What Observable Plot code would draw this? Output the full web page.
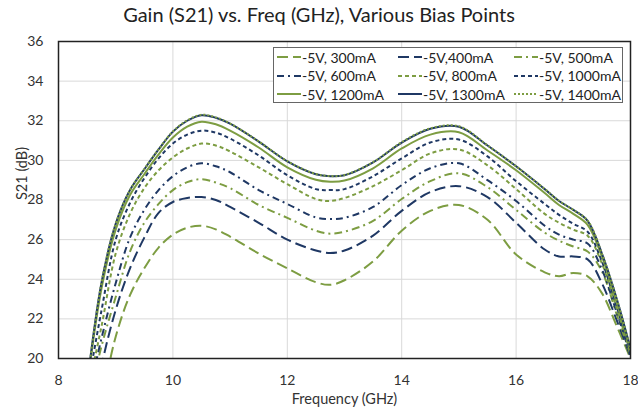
<!DOCTYPE html>
<html><head><meta charset="utf-8">
<script src="https://cdn.jsdelivr.net/npm/d3@7"></script>
<script src="https://cdn.jsdelivr.net/npm/@observablehq/plot@0.6"></script>
<style>
body{margin:0;background:#fff;font-family:Lato,"Open Sans",sans-serif;}
#wrap{position:relative;width:638px;height:415px;overflow:hidden;background:#fff;}
#title{height:28px;line-height:28px;text-align:center;font-size:20px;color:#222;}
#legend{position:absolute;left:273px;top:47px;width:350px;height:56px;border:1px solid #666;background:#fff;box-sizing:border-box;}
.item{position:absolute;display:flex;align-items:center;font-size:14px;color:#222;height:18px;white-space:nowrap;}
.item svg{margin-right:1px;}
</style></head>
<body><div id="wrap"><div id="title">Gain (S21) vs. Freq (GHz), Various Bias Points</div><div id="chart"></div><div id="legend"></div></div>
<script>
const freq = [8.5, 8.75, 9, 9.25, 9.5, 9.75, 10, 10.25, 10.5, 10.75, 11, 11.5, 12, 12.5, 12.75, 13, 13.5, 14, 14.5, 15, 15.5, 16, 16.5, 16.75, 17, 17.25, 17.5, 17.75, 18];
const s300 = [14.5, 17.8, 21.1, 23.2, 24.55, 25.6, 26.25, 26.6, 26.7, 26.52, 26.15, 25.3, 24.55, 23.85, 23.72, 23.95, 24.9, 26.45, 27.45, 27.75, 27.0, 25.25, 24.35, 24.15, 24.32, 24.15, 23.3, 21.7, 20.0];
const s400 = [15.5, 19.6, 22.45, 24.55, 26.1, 27.35, 27.9, 28.1, 28.15, 28.0, 27.65, 26.85, 26.0, 25.45, 25.33, 25.45, 26.2, 27.45, 28.4, 28.7, 28.15, 26.85, 25.5, 25.15, 25.15, 25.0, 23.8, 22.0, 20.1];
const s500 = [17.5, 20.6, 23.1, 25.4, 26.85, 27.8, 28.5, 28.9, 29.05, 28.88, 28.6, 27.75, 27.1, 26.45, 26.3, 26.4, 26.95, 28.05, 28.95, 29.35, 28.65, 27.5, 26.35, 25.95, 25.65, 25.4, 24.4, 22.3, 20.2];
const s600 = [17.8, 21.0, 23.8, 26.1, 27.5, 28.5, 29.2, 29.65, 29.85, 29.7, 29.4, 28.5, 27.8, 27.12, 27.04, 27.1, 27.65, 28.75, 29.6, 29.85, 29.0, 27.95, 26.7, 26.25, 26.0, 25.8, 24.5, 22.4, 20.2];
const s800 = [18.2, 21.6, 25.3, 27.3, 28.6, 29.5, 30.15, 30.6, 30.85, 30.75, 30.45, 29.65, 28.8, 28.05, 27.95, 28.1, 28.7, 29.5, 30.35, 30.55, 29.75, 28.55, 27.3, 26.85, 26.5, 26.2, 24.8, 22.6, 20.3];
const s1000 = [18.4, 22.4, 26.0, 27.85, 29.1, 30.1, 30.85, 31.3, 31.5, 31.4, 31.1, 30.25, 29.25, 28.55, 28.5, 28.55, 29.2, 30.1, 30.9, 31.05, 30.2, 28.95, 27.8, 27.25, 26.8, 26.4, 24.9, 22.7, 20.3];
const s1200 = [18.6, 23.5, 26.5, 28.25, 29.3, 30.3, 31.15, 31.7, 31.95, 31.82, 31.5, 30.65, 29.65, 29.02, 28.92, 28.98, 29.6, 30.6, 31.3, 31.42, 30.5, 29.5, 28.35, 27.75, 27.3, 26.75, 25.15, 22.9, 20.4];
const s1300 = [18.7, 23.8, 26.8, 28.5, 29.55, 30.55, 31.45, 32.0, 32.28, 32.15, 31.85, 30.95, 29.95, 29.3, 29.2, 29.25, 29.9, 30.9, 31.6, 31.7, 30.75, 29.7, 28.55, 27.95, 27.5, 26.95, 25.3, 23.1, 20.5];
const s1400 = [18.7, 23.8, 26.8, 28.5, 29.56, 30.56, 31.46, 32.02, 32.3, 32.17, 31.86, 30.96, 29.96, 29.31, 29.21, 29.26, 29.91, 30.92, 31.62, 31.72, 30.76, 29.7, 28.56, 27.96, 27.5, 26.96, 25.3, 23.1, 20.5];
const seriesLabels = ["-5V, 300mA", "-5V,400mA", "-5V, 500mA", "-5V, 600mA", "-5V, 800mA", "-5V, 1000mA", "-5V, 1200mA", "-5V, 1300mA", "-5V, 1400mA"];
const xTicks = [8, 10, 12, 14, 16, 18];
const yTicks = [20, 22, 24, 26, 28, 30, 32, 34, 36];

const GREEN = "#7d9d42", NAVY = "#1f3864";
const seriesValues = [s300, s400, s500, s600, s800, s1000, s1200, s1300, s1400];
const styles = [
  {stroke: GREEN, dash: "11,5"},
  {stroke: NAVY, dash: "11,5"},
  {stroke: GREEN, dash: "8,4,2,4"},
  {stroke: NAVY, dash: "7,4,2,4"},
  {stroke: GREEN, dash: "4,3"},
  {stroke: NAVY, dash: "4,3"},
  {stroke: GREEN, dash: null},
  {stroke: NAVY, dash: null},
  {stroke: GREEN, dash: "2,2"}
];

const lineMarks = seriesValues.map((vals, k) => {
  const data = freq.map((f, i) => ({f, v: vals[i]}));
  const o = {x: "f", y: "v", stroke: styles[k].stroke, strokeWidth: 2, curve: "catmull-rom", clip: true, strokeLinecap: "butt"};
  if (styles[k].dash) o.strokeDasharray = styles[k].dash;
  return Plot.line(data, o);
});

const chart = Plot.plot({
  width: 638,
  height: 387,
  marginTop: 13,
  marginBottom: 57,
  marginLeft: 58,
  marginRight: 8,
  style: {fontFamily: "Lato, 'Open Sans', sans-serif", fontSize: "14px", color: "#333", background: "#fff"},
  x: {domain: [8, 18]},
  y: {domain: [20, 36]},
  marks: [
    Plot.gridX(xTicks, {stroke: "#d9d9d9", strokeOpacity: 1, strokeWidth: 1}),
    Plot.gridY(yTicks, {stroke: "#d9d9d9", strokeOpacity: 1, strokeWidth: 1}),
    Plot.axisX(xTicks, {tickSize: 0, tickPadding: 17, label: null, tickFormat: d => String(d)}),
    Plot.axisY(yTicks, {tickSize: 0, tickPadding: 15, label: null, tickFormat: d => String(d)}),
    ...lineMarks,
    Plot.frame({stroke: "#222", strokeWidth: 1.5}),
    Plot.text(["Frequency (GHz)"], {frameAnchor: "bottom", dy: 45, fontSize: 14.5, fill: "#333"}),
    Plot.text(["S21 (dB)"], {frameAnchor: "left", dx: -36, rotate: -90, fontSize: 14.5, fill: "#333"})
  ]
});
document.getElementById("chart").appendChild(chart);

// legend
const legend = document.getElementById("legend");
const colX = [3, 124, 240];
const rowY = [9, 27.5, 46];
seriesLabels.forEach((lab, k) => {
  const r = Math.floor(k / 3), c = k % 3;
  const div = document.createElement("div");
  div.className = "item";
  div.style.left = colX[c] + "px";
  div.style.top = (rowY[r] - 9) + "px";
  const st = styles[k];
  div.innerHTML = `<svg width="24" height="10"><line x1="0" y1="5" x2="24" y2="5" stroke="${st.stroke}" stroke-width="2" ${st.dash ? `stroke-dasharray="${st.dash}"` : ""}/></svg><span>${lab}</span>`;
  legend.appendChild(div);
});
</script>
</body></html>
